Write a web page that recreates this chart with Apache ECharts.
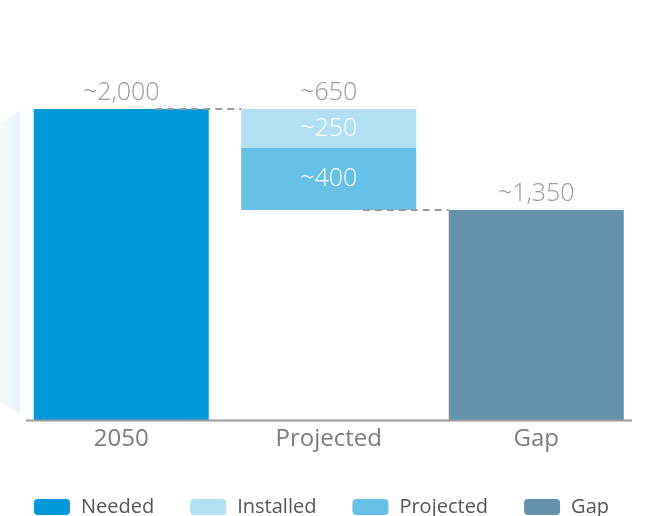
<!DOCTYPE html>
<html>
<head>
<meta charset="utf-8">
<script src="https://cdn.jsdelivr.net/npm/echarts@6/dist/echarts.min.js"></script>
<style>html,body{margin:0;padding:0;background:#fff}#c{width:652px;height:516px}</style>
</head>
<body>
<div id="c"></div>
<script>
var categories = ['2050', 'Projected', 'Gap'];
var needed    = [2000, '-', '-'];
var base      = ['-', 1350, '-'];
var projected = ['-', 400, '-'];
var installed = ['-', 250, '-'];
var gap       = ['-', '-', 1350];
var legendNames = ['Needed', 'Installed', 'Projected', 'Gap'];

var C = { needed: '#0098d8', installed: '#b2dff2', projected: '#66c0e8', gap: '#6592ac' };
var FONT = '"Open Sans", sans-serif';

function fmt(v) { return '~' + Number(v).toLocaleString('en-US'); }

var connectors = [[0, needed[0]], [1, base[1]]];
var totals = [[1, base[1] + projected[1] + installed[1], projected[1] + installed[1]]];

var chart = echarts.init(document.getElementById('c'));
var BW = 175;
var topLabel = { show: true, position: 'top', distance: 4, color: '#9a9a9a', fontSize: 25, fontWeight: 300, fontFamily: FONT, formatter: function (p) { return fmt(p.value); } };
var inLabel = { show: true, position: 'inside', color: '#ffffff', fontSize: 25, fontWeight: 300, fontFamily: FONT, formatter: function (p) { return fmt(p.value); } };

chart.setOption({
  animation: false,
  graphic: [
    { type: 'polygon', z: 0, shape: { points: [[0, 124], [20, 110], [20, 414], [0, 402]] },
      style: { fill: new echarts.graphic.LinearGradient(0, 0, 1, 0, [{ offset: 0, color: '#f5fafd' }, { offset: 1, color: '#e6f3fa' }]) } },
    { type: 'line', z: 10, shape: { x1: 26, y1: 420.5, x2: 632, y2: 420.5 }, style: { stroke: '#9a9a9a', lineWidth: 2 } }
  ],
  grid: { left: 17.5, right: 12, top: 109, bottom: 96, containLabel: false },
  legend: {
    data: legendNames,
    left: 29, top: 492,
    icon: 'roundRect', itemWidth: 36, itemHeight: 16, itemGap: 36,
    textStyle: { color: '#555', fontSize: 20, fontWeight: 400, fontFamily: FONT, padding: [0, 0, 0, 6] }
  },
  xAxis: {
    type: 'category', data: categories,
    axisLine: { show: false }, axisTick: { show: false },
    axisLabel: { color: '#7c7c7c', fontSize: 24, fontWeight: 400, fontFamily: FONT, margin: 7 }
  },
  yAxis: { type: 'value', min: 0, max: 2000, show: false, splitLine: { show: false } },
  series: [
    { name: 'Needed', type: 'bar', stack: 'w', barWidth: BW, data: needed, itemStyle: { color: C.needed }, label: topLabel },
    { name: 'Base', type: 'bar', stack: 'w', barWidth: BW, data: base, itemStyle: { color: 'transparent' }, silent: true },
    { name: 'Projected', type: 'bar', stack: 'w', barWidth: BW, data: projected, itemStyle: { color: C.projected }, label: inLabel },
    { name: 'Installed', type: 'bar', stack: 'w', barWidth: BW, data: installed, itemStyle: { color: C.installed }, label: inLabel },
    { name: 'Gap', type: 'bar', stack: 'w', barWidth: BW, data: gap, itemStyle: { color: C.gap }, label: topLabel },
    { type: 'custom', z: 5, data: connectors,
      renderItem: function (params, api) {
        var p = api.coord([api.value(0), api.value(1)]);
        var q = api.coord([api.value(0) + 1, api.value(1)]);
        return { type: 'line', shape: { x1: p[0] + 34, y1: p[1], x2: q[0] - BW / 2, y2: q[1] },
          style: { stroke: '#9a9a9a', lineWidth: 2, lineDash: [7, 5] } };
      } },
    { type: 'custom', z: 6, data: totals,
      renderItem: function (params, api) {
        var p = api.coord([api.value(0), api.value(1)]);
        return { type: 'text', x: p[0], y: p[1] - 4,
          style: { text: fmt(api.value(2)), fill: '#9a9a9a', font: '300 25px ' + FONT, align: 'center', verticalAlign: 'bottom' } };
      } }
  ]
});
</script>
</body>
</html>
